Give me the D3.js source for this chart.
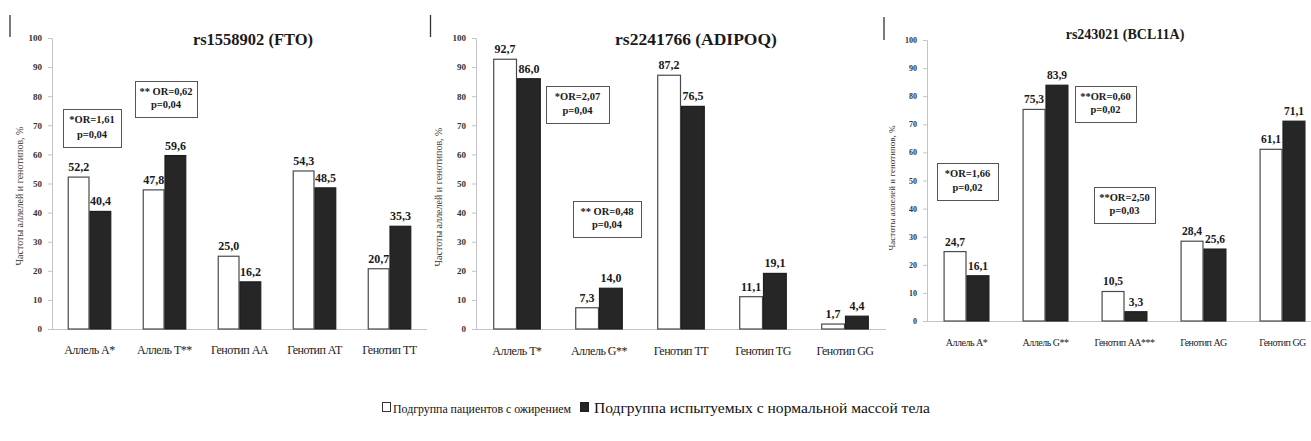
<!DOCTYPE html>
<html lang="ru">
<head>
<meta charset="utf-8">
<script src="https://cdn.jsdelivr.net/npm/d3@7/dist/d3.min.js"></script>
<style>
  html, body { margin: 0; padding: 0; background: #fff; }
</style>
</head>
<body>
<svg id="chart" width="1311" height="441"></svg>
<script>
// ---- Data ----
const seriesKeys = ["obese", "normal"];
const seriesNames = ["Подгруппа пациентов с ожирением", "Подгруппа испытуемых с нормальной массой тела"];

const ftoTitle = "rs1558902 (FTO)";
const ftoCategories = ["Аллель А*", "Аллель Т**", "Генотип АА", "Генотип АТ", "Генотип ТТ"];
const ftoObese  = [52.2, 47.8, 25.0, 54.3, 20.7];
const ftoNormal = [40.4, 59.6, 16.2, 48.5, 35.3];
const ftoNotes  = [["*OR=1,61", "p=0,04"], ["** OR=0,62", "p=0,04"]];

const adipoqTitle = "rs2241766 (ADIPOQ)";
const adipoqCategories = ["Аллель Т*", "Аллель G**", "Генотип ТТ", "Генотип ТG", "Генотип GG"];
const adipoqObese  = [92.7, 7.3, 87.2, 11.1, 1.7];
const adipoqNormal = [86.0, 14.0, 76.5, 19.1, 4.4];
const adipoqNotes  = [["*OR=2,07", "p=0,04"], ["** OR=0,48", "p=0,04"]];

const bclTitle = "rs243021 (BCL11A)";
const bclCategories = ["Аллель А*", "Аллель G**", "Генотип АА***", "Генотип АG", "Генотип GG"];
const bclObese  = [24.7, 75.3, 10.5, 28.4, 61.1];
const bclNormal = [16.1, 83.9, 3.3, 25.6, 71.1];
const bclNotes  = [["*OR=1,66", "p=0,02"], ["**OR=0,60", "p=0,02"], ["**OR=2,50", "p=0,03"]];

const yTicks = [0, 10, 20, 30, 40, 50, 60, 70, 80, 90, 100];
const yLabel = "Частоты аллелей и генотипов, %";

// ---- Panel layout ----
const panels = [
  { title: ftoTitle, cats: ftoCategories, obese: ftoObese, normal: ftoNormal, notes: ftoNotes,
    x0: 52, x1: 427, yTop: 38, yBot: 329, titleX: 253, titleY: 45, titleSize: 16.5,
    tickSize: 9, catSize: 12, catY: 354, valSize: 12, yLabelX: 21, yLabelY: 196, yLabelSize: 10,
    frameX: 10, frameY0: 15, frameY1: 37,
    boxes: [[63, 109, 58, 38], [135, 81, 62, 36]] },
  { title: adipoqTitle, cats: adipoqCategories, obese: adipoqObese, normal: adipoqNormal, notes: adipoqNotes,
    x0: 476, x1: 886, yTop: 38, yBot: 329, titleX: 696, titleY: 45, titleSize: 17.5,
    tickSize: 9, catSize: 12, catY: 355, valSize: 12, yLabelX: 440, yLabelY: 197, yLabelSize: 10,
    frameX: 430.5, frameY0: 15, frameY1: 37,
    boxes: [[546, 86, 63, 37], [573, 201, 68, 36]] },
  { title: bclTitle, cats: bclCategories, obese: bclObese, normal: bclNormal, notes: bclNotes,
    x0: 927, x1: 1322, yTop: 40, yBot: 321, titleX: 1125, titleY: 39, titleSize: 14,
    tickSize: 8, catSize: 10, catY: 346, valSize: 11.5, yLabelX: 893, yLabelY: 188, yLabelSize: 9,
    frameX: 884, frameY0: 17, frameY1: 40,
    boxes: [[937, 163, 61, 37], [1075, 86, 61, 36], [1094, 187, 61, 36]] }
];

const SERIF = "Liberation Serif";
const fmt = v => d3.format(".1f")(v).replace(".", ",");
const svg = d3.select("#chart").attr("font-family", SERIF);
const fillColor = { obese: "#ffffff", normal: "#262626" };
const strokeColor = { obese: "#4a4a4a", normal: "#1e1e1e" };

panels.forEach(p => {
  const g = svg.append("g").attr("font-family", SERIF);

  // short vertical frame edge above each panel
  g.append("line")
    .attr("x1", p.frameX).attr("x2", p.frameX)
    .attr("y1", p.frameY0).attr("y2", p.frameY1)
    .attr("stroke", "#333").attr("stroke-width", 1.3);

  const x = d3.scaleBand().domain(p.cats).range([p.x0, p.x1])
    .paddingInner(0.42).paddingOuter(0.21);
  const xs = d3.scaleBand().domain(seriesKeys).range([0, x.bandwidth()]);
  const y = d3.scaleLinear().domain([0, 100]).range([p.yBot, p.yTop]);

  // y axis
  const yAxis = g.append("g")
    .attr("transform", `translate(${p.x0},0)`)
    .call(d3.axisLeft(y).tickValues(yTicks).tickSize(4).tickPadding(6))
    .attr("font-family", SERIF);
  yAxis.select(".domain").attr("stroke", "#c4c4c4");
  yAxis.selectAll(".tick line").attr("stroke", "#c4c4c4");
  yAxis.selectAll(".tick text")
    .attr("font-weight", "bold")
    .attr("font-size", p.tickSize)
    .attr("fill", "#333");

  // x axis baseline
  g.append("line")
    .attr("x1", p.x0).attr("x2", p.x1)
    .attr("y1", p.yBot + 0.5).attr("y2", p.yBot + 0.5)
    .attr("stroke", "#c4c4c4");

  // y axis title
  g.append("text")
    .attr("transform", `translate(${p.yLabelX},${p.yLabelY}) rotate(-90)`)
    .attr("text-anchor", "middle")
    .attr("dominant-baseline", "middle")
    .attr("font-size", p.yLabelSize)
    .attr("fill", "#333")
    .text(yLabel);

  // title
  g.append("text")
    .attr("x", p.titleX).attr("y", p.titleY)
    .attr("text-anchor", "middle")
    .attr("font-weight", "bold")
    .attr("font-size", p.titleSize)
    .attr("fill", "#1a1a1a")
    .text(p.title);

  const rows = p.cats.map((c, i) => ({ cat: c, obese: p.obese[i], normal: p.normal[i] }));

  const groups = g.selectAll(".grp").data(rows).enter().append("g")
    .attr("transform", d => `translate(${x(d.cat)},0)`);

  const bars = groups.selectAll("rect")
    .data(d => seriesKeys.map(k => ({ key: k, value: d[k] })))
    .enter();

  bars.append("rect")
    .attr("x", d => xs(d.key) + 0.5)
    .attr("y", d => y(d.value))
    .attr("width", xs.bandwidth() - 1)
    .attr("height", d => y(0) - y(d.value))
    .attr("fill", d => fillColor[d.key])
    .attr("stroke", d => strokeColor[d.key])
    .attr("stroke-width", 1.2);

  bars.append("text")
    .attr("x", d => xs(d.key) + xs.bandwidth() / 2)
    .attr("y", d => y(d.value) - 6)
    .attr("text-anchor", "middle")
    .attr("font-weight", "bold")
    .attr("font-size", p.valSize)
    .attr("fill", "#1a1a1a")
    .text(d => fmt(d.value));

  // category labels
  g.selectAll(".cat").data(p.cats).enter().append("text")
    .attr("x", d => x(d) + x.bandwidth() / 2)
    .attr("y", p.catY)
    .attr("text-anchor", "middle")
    .attr("font-size", p.catSize)
    .attr("fill", "#222")
    .attr("letter-spacing", -0.5)
    .text(d => d);

  // OR / p annotation boxes
  p.notes.forEach((lines, i) => {
    const [bx, by, bw, bh] = p.boxes[i];
    g.append("rect")
      .attr("x", bx + 0.5).attr("y", by + 0.5)
      .attr("width", bw).attr("height", bh)
      .attr("fill", "#fff").attr("stroke", "#555").attr("stroke-width", 1);
    lines.forEach((t, j) => {
      g.append("text")
        .attr("x", bx + bw / 2)
        .attr("y", by + bh * (j === 0 ? 0.38 : 0.76))
        .attr("text-anchor", "middle")
        .attr("font-weight", "bold")
        .attr("font-size", 10.5)
        .attr("fill", "#1a1a1a")
        .text(t);
    });
  });
});

// legend: swatch + label per series
const legendItems = [
  { key: "obese",  name: seriesNames[0], sx: 382.5, tx: 393, tw: 178, fs: 13.5 },
  { key: "normal", name: seriesNames[1], sx: 580.5, tx: 594, tw: 336, fs: 15 }
];
const legend = svg.append("g").attr("font-family", SERIF);
legendItems.forEach(it => {
  legend.append("rect")
    .attr("x", it.sx).attr("y", 402.5)
    .attr("width", 8).attr("height", 9)
    .attr("fill", fillColor[it.key])
    .attr("stroke", it.key === "obese" ? "#333" : "#1e1e1e")
    .attr("stroke-width", 1);
  legend.append("text")
    .attr("x", it.tx).attr("y", 413)
    .attr("font-size", it.fs).attr("fill", "#111")
    .attr("textLength", it.tw).attr("lengthAdjust", "spacingAndGlyphs")
    .text(it.name);
});
</script>
</body>
</html>
